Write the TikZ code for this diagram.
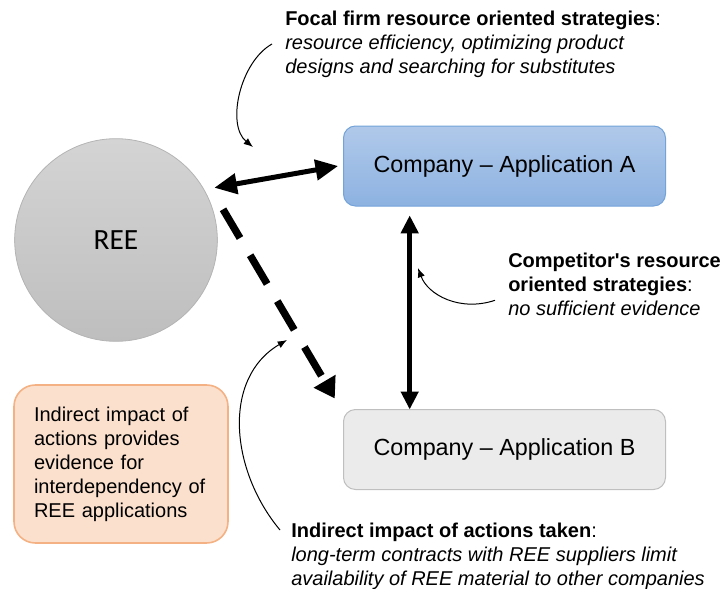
\documentclass[tikz,border=0pt]{standalone}
\usepackage{fontspec}
\setmainfont{Liberation Sans}
\newfontfamily\calibrifont{Carlito}
\usetikzlibrary{arrows.meta}
\usetikzlibrary{calc}
\definecolor{reetop}{HTML}{D4D4D4}
\definecolor{reebottom}{HTML}{BEBEBE}
\definecolor{reeedge}{HTML}{B4B4B4}
\definecolor{bluetop}{HTML}{B0C9EA}
\definecolor{bluebottom}{HTML}{8DB2E1}
\definecolor{blueedge}{HTML}{74A3DA}
\definecolor{grayfill}{HTML}{EBEBEB}
\definecolor{grayedge}{HTML}{BFBFBF}
\definecolor{peachfill}{HTML}{FBE0CD}
\definecolor{peachedge}{HTML}{F4B183}
\tikzset{
  reebubble/.style={circle, draw=reeedge, line width=0.6pt, top color=reetop, bottom color=reebottom,
    minimum size=152pt, outer sep=7.5pt, font=\calibrifont\fontsize{22}{26}\selectfont},
  appbox/.style={rectangle, rounded corners=9pt, line width=0.75pt, minimum width=241.5pt,
    minimum height=60pt, outer sep=4pt, font=\fontsize{17.5}{21}\selectfont},
  notebox/.style={rectangle, rounded corners=16pt, draw=peachedge, fill=peachfill, line width=1.2pt,
    minimum width=160.5pt, minimum height=118.5pt, text width=130.5pt, align=left,
    font=\fontsize{15}{18}\selectfont},
  remark/.style={anchor=north west, inner sep=0pt, align=left, font=\fontsize{15}{18}\selectfont},
  bigarrow/.style={{Triangle[length=17pt,width=15pt]}-{Triangle[length=17pt,width=15pt]}, line width=3.75pt},
  midarrow/.style={{Triangle[length=13.5pt,width=12.75pt]}-{Triangle[length=13.5pt,width=12.75pt]}, line width=3.75pt},
  dasharrow/.style={-{Triangle[length=15pt,width=18pt]}, line width=5.5pt, dash pattern=on 25pt off 15pt},
  remarkarrow/.style={-{Latex[length=7pt,width=5.5pt]}, line width=0.75pt}
}

\begin{document}
\begin{tikzpicture}[x=0.75pt,y=-0.75pt]
  \useasboundingbox (0,0) rectangle (722,589);

  \node [reebubble] (REE) at (116,240) {REE};
  \node [appbox, draw=blueedge, top color=bluetop, bottom color=bluebottom] (appA) at (504.5,166) {Company -- Application A};
  \node [appbox, draw=grayedge, fill=grayfill] (appB) at (504.5,449.5) {Company -- Application B};
  \node [notebox] (evidence) at (121,464) {Indirect impact of\\actions provides\\evidence for\\interdependency of\\REE applications};

  \node [remark] (focal) at (285,10.4) {\textbf{Focal firm resource oriented strategies}:\\\textit{resource efficiency, optimizing product}\\\textit{designs and searching for substitutes}};
  \node [remark] (rival) at (508,252.4) {\textbf{Competitor\textquotesingle s resource}\\\textbf{oriented strategies}:\\\textit{no sufficient evidence}};
  \node [remark] (impact) at (291,522.4) {\textbf{Indirect impact of actions taken}:\\\textit{long-term contracts with REE suppliers limit}\\\textit{availability of REE material to other companies}};

  \draw [bigarrow] (REE.28) -- (appA.west);
  \draw [dasharrow, shorten >=5pt] (REE.16) -- (appB.north west);
  \draw [midarrow, shorten <=3pt, shorten >=-4pt] ($(appA.south west)!0.215!(appA.south east)$) -- ($(appB.north west)!0.215!(appB.north east)$);

  \coordinate (focaltip) at (253,147);
  \coordinate (rivaltip) at (418,268);
  \coordinate (impacttip) at (287,340);
  \draw [remarkarrow] ([xshift=-9.75pt]focal.west) .. controls (240,62) and (226,125) .. (focaltip);
  \draw [remarkarrow] ([shift={(-9.75pt,11.5pt)}]rival.south west) .. controls (460,312) and (428,295) .. (rivaltip);
  \draw [remarkarrow] ([shift={(-8.25pt,-5.7pt)}]impact.north west) .. controls (230,470) and (222,378) .. (impacttip);
\end{tikzpicture}
\end{document}
